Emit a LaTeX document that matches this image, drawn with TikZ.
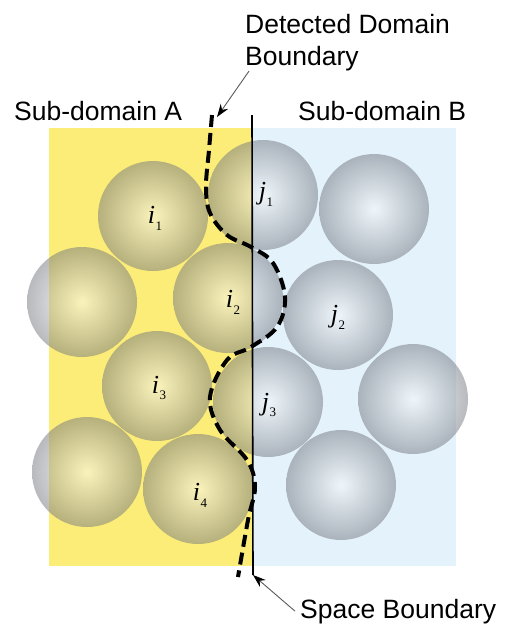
\documentclass[tikz,border=0pt]{standalone}
\usepackage{fontspec}
\setmainfont{Liberation Sans}
\newfontfamily\lblfont{Liberation Serif}
\usetikzlibrary{arrows.meta}
\definecolor{subA}{RGB}{252,236,120}
\definecolor{subB}{RGB}{228,242,252}
\definecolor{ballrim}{RGB}{118,122,130}
\newcommand\plab[2]{{\lblfont\itshape #1}\kern.5pt\raisebox{-.5ex}{\lblfont\fontsize{13}{13}\selectfont #2}}

\begin{document}
\begin{tikzpicture}[x=1pt,y=-1pt,
  txt/.style={font=\fontsize{26.5}{32}\selectfont,inner sep=0},
  lbl/.style={font=\fontsize{26}{26}\selectfont,inner sep=0},
  ptr/.style={gray!70!black,line width=.9pt,-{Stealth[black,length=13pt,width=9pt]}},
  ball/.style={inner color=white!96!ballrim,outer color=ballrim}]
\useasboundingbox (0,0) rectangle (506,625);
\fill[subA] (49,128) rectangle (252,566);
\fill[subB] (252,128) rectangle (456,566);
\begin{scope}[transparency group,opacity=.52]
\foreach \cx/\cy in {153/216,263/195,374/209,82/302,228/298,338/315,157/386,268/402,413/399,87/472,198/489,341/485}
  \shade[ball] (\cx,\cy) circle (55);
\end{scope}
\coordinate (sbtop) at (252,115); \coordinate (sbbot) at (253,575);
\coordinate (dtop) at (217,117);
\draw[line width=1.6pt] (sbtop) -- (sbbot);
\draw[line width=4pt,dash pattern=on 12pt off 6pt] plot[smooth,tension=.6] coordinates {(212,115) (209,150) (206,187) (210,213) (227,235) (251,247) (273,263) (285,297) (277,327) (251,347) (227,360) (210,397) (220,430) (247,460) (255,487) (248,520) (238,577)};
\node[lbl] (i1) at (155,218) {\plab{i}{1}};
\node[lbl] (j1) at (266,194) {\plab{j}{1}};
\node[lbl] (i2) at (233,302) {\plab{i}{2}};
\node[lbl] (j2) at (338,317) {\plab{j}{2}};
\node[lbl] (i3) at (159,388) {\plab{i}{3}};
\node[lbl] (j3) at (269,405) {\plab{j}{3}};
\node[lbl] (i4) at (200,495) {\plab{i}{4}};
\node[txt,anchor=base west] (sda) at (14,120) {Sub-domain A};
\node[txt,anchor=base west] (sdb) at (298,120) {Sub-domain B};
\node[txt,anchor=north west,align=left] (ddb) at (245,14) {Detected Domain\\Boundary};
\node[txt,anchor=base west] (sbl) at (300,618) {Space Boundary};
\draw[ptr] ([xshift=4pt]ddb.south west) -- (dtop);
\draw[ptr] ([xshift=-5pt]sbl.west) -- (sbbot);
\end{tikzpicture}
\end{document}
